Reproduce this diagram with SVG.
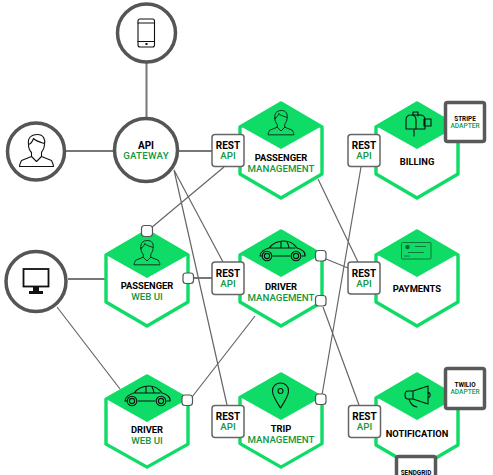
<svg xmlns="http://www.w3.org/2000/svg" width="493" height="475" viewBox="0 0 493 475">
<style>
text{font-family:Roboto,"Liberation Sans",sans-serif;text-anchor:middle;font-size:9.4px;font-weight:700;fill:#000}
.g{fill:#12983d;font-weight:500;font-size:9.7px}
.s{font-size:6.4px}
.sg{fill:#12983d;font-weight:500;font-size:6.6px}
.b{font-size:10px}
.bg{letter-spacing:.25px}
.c{fill:#fff;stroke:#555;stroke-width:3.5}
.h{fill:#fff;stroke:#0fdc66;stroke-width:3.4;stroke-linejoin:round}
.d{fill:#0fdc66}
.r{fill:#fff;stroke:#666;stroke-width:1.5}
.p{fill:#fff;stroke:#555;stroke-width:1.2}
.a{fill:#fff;stroke:#595959;stroke-width:3.5}
.i{fill:none;stroke:#111;stroke-width:1.1;stroke-linejoin:round;stroke-linecap:round}
.k{fill:none;stroke:#0b6b33;stroke-width:.9}
.l{stroke:#666;stroke-width:1.2;fill:none}
.t{stroke:#777;stroke-width:2;fill:none}
</style>
<defs>
<path id="hex" d="M0 0L41 24V71L0 95L-41 71V24Z"/>
<path id="dia" d="M0 0L41 24L0 47L-41 24Z"/>
<g id="person"><path class="i" d="M-8 -13C-9 -19 -6 -23 1 -23C7 -23 9 -18 8 -13C8 -9 6 -7 5 -5V-1L15 3C16 5 17 7 17 9H-17C-17 7 -16 5 -15 3L-5 -1V-5C-7 -7 -8 -9 -8 -13ZM-8 -13C-5 -14 -4 -16 -3 -19C0 -16 5 -15 8 -14M-5 -1L0 4L5 -1"/></g>
<g id="car"><path class="i" d="M-8 5H9M21 5H24C25 1 20 -2 16 -3C13 -7 10 -10 3 -10C-3 -10 -8 -8 -12 -3C-16 -2 -21 1 -21 5H-19M-11 -3H14M0 -9V-3M6 -9C7 -7 8 -5 8 -3"/><circle class="i" cx="-14" cy="5" r="4.800"/><circle class="i" cx="-14" cy="5" r="2.600"/><circle class="i" cx="15" cy="5" r="4.800"/><circle class="i" cx="15" cy="5" r="2.600"/></g>
</defs>
<g id="connectors">
<path class="t" d="M146.500 63V117M66 151H113M179 151H212M68 279H105M193 278H212"/>
<path class="l" d="M224 167L151 228M174 170L223 262M174 170L227 405M57 307L120 389M192 397L255 316M318 179L358 262M326 259L348 268M323 307L359 405M322 395L361 167"/>
</g>
<g id="phone"><circle class="c" cx="146.500" cy="33" r="29"/><rect class="i" x="138" y="19" width="16.500" height="28" rx="2"/><path class="i" d="M138 23H154.500M138 41.500H154.500"/><rect x="145.500" y="43" width="2" height="2" fill="#111"/></g>
<g id="user"><circle class="c" cx="36" cy="151.500" r="28.500"/><use href="#person" x="36.500" y="157.500"/></g>
<g id="api-gateway"><circle class="c" cx="146" cy="150" r="31.500"/><text class="b" x="146" y="148.500">API</text><text class="g bg" x="146" y="158.800">GATEWAY</text></g>
<g id="browser"><circle class="c" cx="36" cy="281.500" r="30"/><rect x="23.500" y="269" width="25" height="17.500" fill="#fff" stroke="#111" stroke-width="1.800"/><path d="M33 287H39V291H43V294H29V291H33Z" fill="#111"/></g>
<g id="passenger-management"><use href="#hex" class="h" x="281" y="103"/><use href="#dia" class="d" x="281" y="102"/><use href="#person" transform="translate(281 128) scale(.76)"/><text x="281" y="161">PASSENGER</text><text class="g" x="281" y="172">MANAGEMENT</text></g>
<g id="billing"><use href="#hex" class="h" x="417" y="103"/><use href="#dia" class="d" x="417" y="102"/><path class="i" d="M414 129V136M406 129V120C406 117 408 115 411 115H420C423 115 425 117 425 120V129ZM411 115C414 115 416 117 416 120V129M413 115V112H418V116M424 119H431V126H424Z"/><text x="417" y="165">BILLING</text></g>
<g id="stripe-adapter"><rect class="a" x="445.500" y="102.500" width="39" height="39" rx="2"/><text class="s" x="465" y="120.800">STRIPE</text><text class="sg" x="465" y="128">ADAPTER</text></g>
<g id="passenger-web-ui"><use href="#hex" class="h" x="147" y="231"/><use href="#dia" class="d" x="147" y="231"/><use href="#person" transform="translate(147 258) scale(.76)"/><text x="147" y="289">PASSENGER</text><text class="g" x="147" y="300">WEB UI</text></g>
<g id="driver-management"><use href="#hex" class="h" x="281" y="231"/><use href="#dia" class="d" x="281" y="230"/><use href="#car" x="281" y="251"/><text x="281" y="290">DRIVER</text><text class="g" x="281" y="301">MANAGEMENT</text></g>
<g id="payments"><use href="#hex" class="h" x="417" y="231"/><use href="#dia" class="d" x="417" y="230"/><rect class="k" x="401.500" y="242.500" width="29.500" height="16.500" rx="1"/><circle cx="407.500" cy="247" r="2.200" fill="#0b6b33"/><path class="k" stroke-width=".6" d="M415 246.500H426M408 252.500H424M404 256H410"/><text x="417" y="292">PAYMENTS</text></g>
<g id="driver-web-ui"><use href="#hex" transform="translate(147 376) scale(1 .96)" class="h"/><use href="#dia" class="d" x="147" y="375"/><use href="#car" x="146" y="396"/><text x="147" y="433">DRIVER</text><text class="g" x="147" y="444">WEB UI</text></g>
<g id="trip-management"><use href="#hex" transform="translate(281 374) scale(1 .98)" class="h"/><use href="#dia" class="d" x="281" y="373"/><path class="i" d="M280.500 408C276 401 272.500 396 272.500 391C272.500 386 276 383 280.500 383C285 383 288.500 386 288.500 391C288.500 396 285 401 280.500 408Z"/><circle class="i" cx="280.500" cy="391" r="2.500"/><text x="281" y="432">TRIP</text><text class="g" x="281" y="443">MANAGEMENT</text></g>
<g id="notification"><use href="#hex" x="417" y="374" class="h"/><use href="#dia" class="d" x="417" y="373"/><path class="i" d="M408 391H413L428 386V404L413 399H408C404 399 404 391 408 391ZM413 391V399M409 399C410 403 412 406 417 407M428 392C431 393 431 397 428 398"/><text x="417" y="437">NOTIFICATION</text></g>
<g id="twilio-adapter"><rect class="a" x="445.500" y="368.500" width="39" height="40" rx="2"/><text class="s" x="465" y="387">TWILIO</text><text class="sg" x="465" y="394.300">ADAPTER</text></g>
<g id="sendgrid-adapter"><rect class="a" x="396.500" y="456.500" width="39" height="39" rx="2"/><text class="s" x="416" y="474.500">SENDGRID</text></g>
<g id="rest-1"><rect class="r" x="212" y="134.500" width="32" height="32" rx="3"/><text class="b" x="228" y="148.600">REST</text><text class="g" x="228" y="158.700">API</text></g>
<g id="rest-2"><rect class="r" x="348" y="134.500" width="32" height="32" rx="3"/><text class="b" x="364" y="148.600">REST</text><text class="g" x="364" y="158.700">API</text></g>
<g id="rest-3"><rect class="r" x="212" y="262" width="32" height="32.500" rx="3"/><text class="b" x="228" y="276.500">REST</text><text class="g" x="228" y="286.600">API</text></g>
<g id="rest-4"><rect class="r" x="348" y="262" width="32" height="32" rx="3"/><text class="b" x="364" y="276.500">REST</text><text class="g" x="364" y="286.600">API</text></g>
<g id="rest-5"><rect class="r" x="212" y="405.500" width="32" height="32" rx="3"/><text class="b" x="228" y="420">REST</text><text class="g" x="228" y="430.100">API</text></g>
<g id="rest-6"><rect class="r" x="348.500" y="405.500" width="32" height="32" rx="3"/><text class="b" x="364.500" y="420">REST</text><text class="g" x="364.500" y="430.100">API</text></g>
<g id="ports">
<rect class="p" x="141.500" y="225.500" width="11" height="11" rx="3"/>
<rect class="p" x="183" y="273" width="10.500" height="10.500" rx="3"/>
<rect class="p" x="182" y="395" width="10.500" height="10.500" rx="3"/>
<rect class="p" x="315.500" y="250.500" width="10.500" height="10.500" rx="3"/>
<rect class="p" x="315.500" y="295.500" width="10.500" height="10.500" rx="3"/>
<rect class="p" x="315.500" y="394" width="10.500" height="10.500" rx="3"/>
</g>
</svg>
